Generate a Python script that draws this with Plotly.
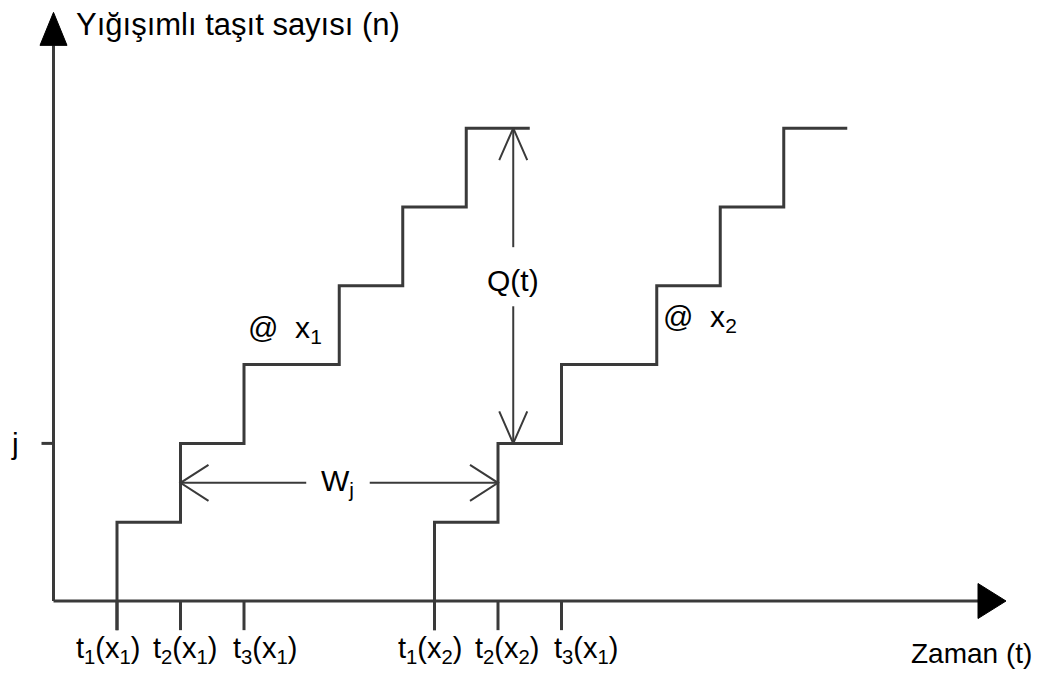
import plotly.graph_objects as go

# ---- data ----
counts = [1, 2, 3, 4, 5, 6]                      # cumulative vehicle count levels
arrivals_x1 = [1, 2, 3, 4.5, 5.5, 6.5]           # passage times at x1
arrivals_x2 = [6, 7, 8, 9.5, 10.5, 11.5]         # passage times at x2
end_x1 = 7.5
end_x2 = 12.5
tick_times = [1, 2, 3, 6, 7, 8]
tick_labels = ["t<sub>1</sub>(x<sub>1</sub>)", "t<sub>2</sub>(x<sub>1</sub>)", "t<sub>3</sub>(x<sub>1</sub>)",
               "t<sub>1</sub>(x<sub>2</sub>)", "t<sub>2</sub>(x<sub>2</sub>)", "t<sub>3</sub>(x<sub>1</sub>)"]
label_shift_px = [-9, 4, 21, -5, 9, 24]
j_count = 2
wj_level = 1.5
q_time = 7.24
t_axis_end = 15
n_axis_end = 7.47

# ---- styling / geometry ----
PX, PY = 63.5, 78.8          # pixels per data unit
ORIG_X, ORIG_Y = 53.5, 601   # page position of the origin
OFF = 8                      # page offset of the figure
LINE = "#3a3a3a"
FONT = "Liberation Sans, Arial, sans-serif"
tick_low = -0.37

fig = go.Figure()

def add_line(xs, ys, width=3, color=LINE, shape="linear"):
    fig.add_trace(go.Scatter(x=xs, y=ys, mode="lines", line=dict(color=color, width=width, shape=shape),
                             hoverinfo="skip", showlegend=False))

def add_poly(xs, ys):
    fig.add_trace(go.Scatter(x=xs, y=ys, mode="lines", fill="toself", fillcolor="black",
                             line=dict(color="black", width=1), hoverinfo="skip", showlegend=False))

# axes
head_len_x, head_half_x = 28 / PX, 17.5 / PY
head_len_y, head_half_y = 33 / PY, 13.5 / PX
add_line([0, t_axis_end - head_len_x], [0, 0])
add_poly([t_axis_end, t_axis_end - head_len_x, t_axis_end - head_len_x, t_axis_end],
         [0, head_half_x, -head_half_x, 0])
add_line([0, 0], [0, n_axis_end - head_len_y])
add_poly([0, -head_half_y, head_half_y, 0],
         [n_axis_end, n_axis_end - head_len_y, n_axis_end - head_len_y, n_axis_end])

# ticks on time axis
tx, ty = [], []
for t in tick_times:
    tx += [t, t, None]
    ty += [0, tick_low, None]
add_line(tx, ty)
# j tick
add_line([-12 / PX, 0], [j_count, j_count])

# staircases
add_line(arrivals_x1 + [end_x1], [tick_low] + counts, shape="vh")
add_line(arrivals_x2 + [end_x2], [tick_low] + counts, shape="vh")

# double arrows with open V heads
v_len_h, v_half_h = 28 / PX, 18 / PY
v_len_v, v_half_v = 32 / PY, 14 / PX
w_start, w_end = arrivals_x1[j_count - 1], arrivals_x2[j_count - 1]
w_label_t = 4.48
w_gap = 0.5
add_line([w_start, w_label_t - w_gap], [wj_level, wj_level], width=2)
add_line([w_label_t + w_gap, w_end], [wj_level, wj_level], width=2)
add_line([w_start + v_len_h, w_start, w_start + v_len_h], [wj_level + v_half_h, wj_level, wj_level - v_half_h], width=2)
add_line([w_end - v_len_h, w_end, w_end - v_len_h], [wj_level + v_half_h, wj_level, wj_level - v_half_h], width=2)

q_top, q_bot = counts[-1], j_count
q_label_n = 4.07
add_line([q_time, q_time], [q_top, q_label_n + 0.42], width=2)
add_line([q_time, q_time], [q_label_n - 0.33, q_bot], width=2)
add_line([q_time - v_half_v, q_time, q_time + v_half_v], [q_top - v_len_v, q_top, q_top - v_len_v], width=2)
add_line([q_time - v_half_v, q_time, q_time + v_half_v], [q_bot + v_len_v, q_bot, q_bot + v_len_v], width=2)

# text
ann = []
def text(x, y, s, size=30, xanchor="center", xshift=0):
    ann.append(dict(x=x, y=y, text=s, showarrow=False, xanchor=xanchor, yanchor="middle", xshift=xshift,
                    font=dict(family=FONT, size=size, color="black")))

text(0.33, 7.32, "Yığışımlı taşıt sayısı (n)", size=31, xanchor="left")
text(14.46, -0.66, "Zaman (t)", size=28)
text(-0.606, j_count, "j")
for t, lab, sh in zip(tick_times, tick_labels, label_shift_px):
    text(t, -0.62, lab, size=29, xshift=sh)
text(w_label_t, wj_level, "W<sub>j</sub>")
text(q_time, q_label_n, "Q(t)")
text(3.65, 3.44, "@  x<sub>1</sub>")
text(10.18, 3.59, "@  x<sub>2</sub>")

fig.update_layout(
    width=1050, height=678,
    margin=dict(l=0, r=0, t=0, b=0),
    paper_bgcolor="white", plot_bgcolor="white",
    xaxis=dict(range=[(OFF - ORIG_X) / PX, (1050 + OFF - ORIG_X) / PX], visible=False, fixedrange=True),
    yaxis=dict(range=[(ORIG_Y - 678 - OFF) / PY, (ORIG_Y - OFF) / PY], visible=False, fixedrange=True),
    annotations=ann,
    showlegend=False,
)

fig.write_html("out.html")
